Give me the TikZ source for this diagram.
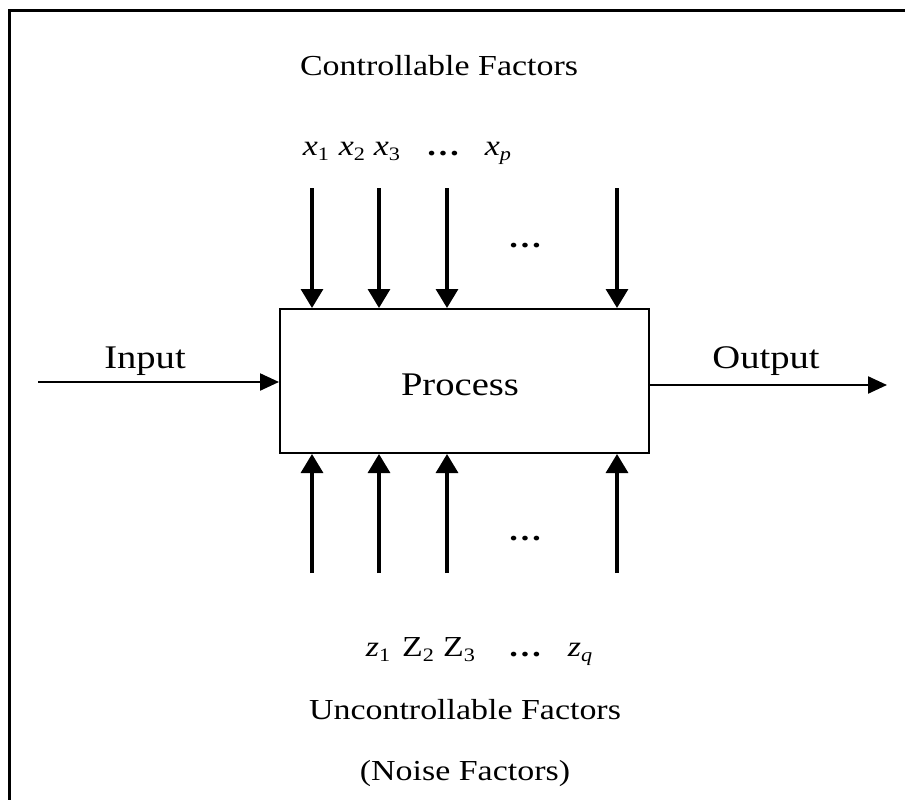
\documentclass[tikz,border=0pt]{standalone}
\usepackage{fontspec}
\setmainfont{Liberation Serif}[FakeStretch=1.17]
\usetikzlibrary{arrows.meta}
\usetikzlibrary{positioning}

\newcommand{\lowsub}[1]{\raisebox{-0.45ex}{\fontsize{19}{22}\selectfont #1}}

\begin{document}
\begin{tikzpicture}[
    x=1pt, y=-1pt,
    frame line/.style={line width=3pt},
    box line/.style={line width=2pt},
    flow arrow/.style={-{Triangle[width=17pt,length=19pt]}, line width=2.3pt},
    factor arrow/.style={-{Triangle[width=22pt,length=19pt]}, line width=3.2pt},
    big label/.style={font=\fontsize{33}{40}\selectfont, inner sep=0pt, anchor=base},
    small label/.style={font=\fontsize{29}{35}\selectfont, inner sep=0pt, anchor=base},
    every node/.style={color=black}
    ]

    \useasboundingbox (0,0) rectangle (905,800);

    % outer frame
    \coordinate (F1) at (9,800);
    \coordinate (F2) at (9,11);
    \coordinate (F3) at (905,11);
    \draw[frame line] (F1) -- (F2) -- (F3);

    % process box
    \node[draw, box line, minimum width=369pt, minimum height=144pt, inner sep=0pt] (box) at (464.5,381) {};
    \node[big label] (process) at (460,395) {Process};

    % input, output
    \coordinate (in) at (38,382);
    \coordinate (out) at (887,385);
    \draw[flow arrow] (in) -- (in -| box.west);
    \draw[flow arrow] (out -| box.east) -- (out);
    \node[big label] (inputlabel) at (145,368) {Input};
    \node[big label] (outputlabel) at (766,368) {Output};

    % controllable factors
    \node[small label] (ctrl) at (439,75) {Controllable Factors};
    \node[small label] (x1) at (316,155) {\textit{x}\lowsub{1}};
    \node[small label] (x2) at (352,155) {\textit{x}\lowsub{2}};
    \node[small label] (x3) at (387,155) {\textit{x}\lowsub{3}};
    \node[small label] (xdots) at (443,155) {\textbf{\dots}};
    \node[small label] (xp) at (498,155) {\textit{x}\lowsub{\textit{p}}};
    \foreach \n/\x in {1/312, 2/379, 3/447, 4/617} {
        \coordinate (t\n) at (\x,188);
        \draw[factor arrow] (t\n) -- (t\n |- box.north);
    }
    \node[small label] (tdots) at (525,247) {\textbf{\dots}};

    % uncontrollable factors
    \foreach \n/\x in {1/312, 2/379, 3/447, 4/617} {
        \coordinate (b\n) at (\x,573);
        \draw[factor arrow] (b\n) -- (b\n |- box.south);
    }
    \node[small label] (bdots) at (525,540) {\textbf{\dots}};
    \node[small label] (z1) at (378,656) {\textit{z}\lowsub{1}};
    \node[small label] (z2) at (418,656) {Z\lowsub{2}};
    \node[small label] (z3) at (459,656) {Z\lowsub{3}};
    \node[small label] (zdots) at (525,656) {\textbf{\dots}};
    \node[small label] (zq) at (580,656) {\textit{z}\lowsub{\textit{q}}};
    \node[small label] (unctrl) at (465,719) {Uncontrollable Factors};
    \node[small label] (noise) at (465,780) {(Noise Factors)};

\end{tikzpicture}
\end{document}
